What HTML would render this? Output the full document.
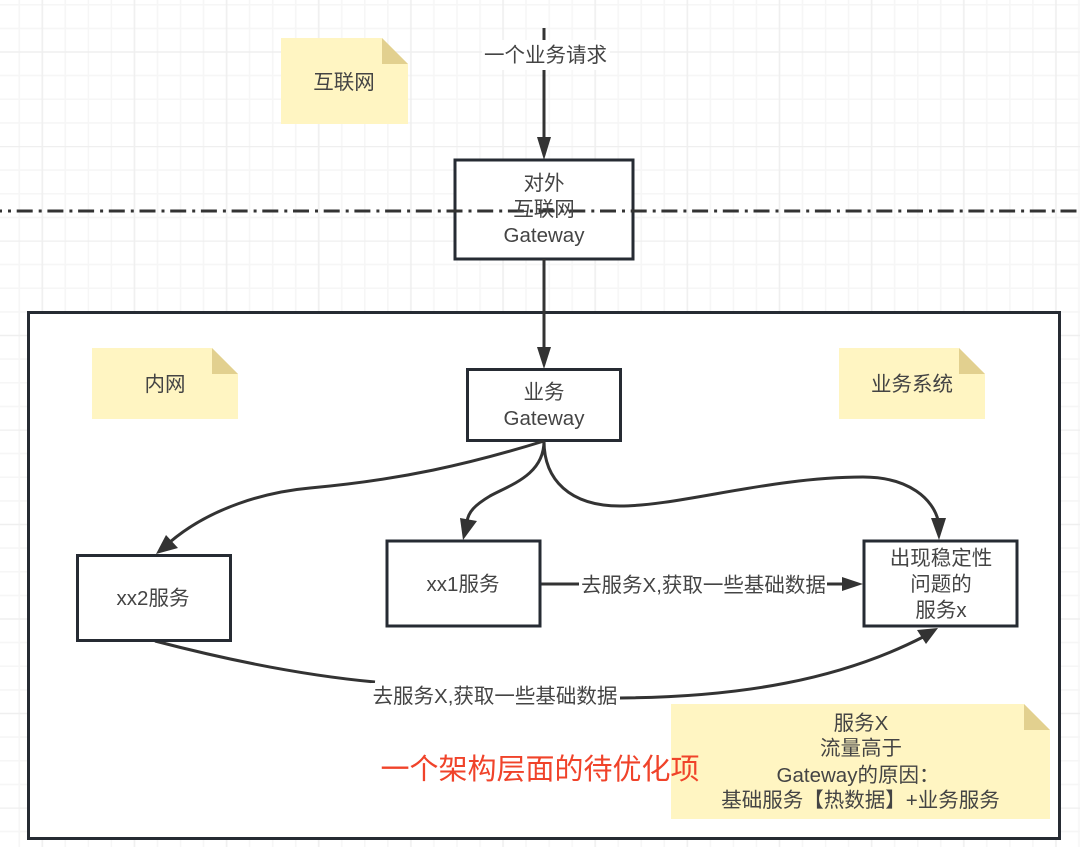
<!DOCTYPE html>
<html><head><meta charset="utf-8"><style>
html,body{margin:0;padding:0;background:#fff}
svg{display:block;filter:blur(.3px)}
text{font-family:"Liberation Sans","Noto Sans CJK SC",sans-serif;font-size:20.5px;fill:#444;text-anchor:middle}
</style></head><body>
<svg width="1080" height="847" viewBox="0 0 1080 847" xmlns="http://www.w3.org/2000/svg">
<defs>
<pattern id="g" width="92.15" height="94.5" patternUnits="userSpaceOnUse" x="41.3" y="51">
<path d="M24 0V94.5M47.1 0V94.5M70.1 0V94.5M0 24.6H92.15M0 48.25H92.15M0 71.9H92.15" stroke="#f6f6f6" stroke-width="1.6" fill="none"/>
<path d="M1 0V94.5M0 1H92.15" stroke="#efefef" stroke-width="1.6" fill="none"/>
</pattern>
</defs>
<rect width="1080" height="847" fill="#fff"/>
<rect width="1080" height="847" fill="url(#g)"/>

<!-- top arrow -->
<path d="M544 28V140" stroke="#333" stroke-width="3" fill="none"/>
<rect x="482" y="40" width="128" height="30" fill="#fff"/>
<text x="545.5" y="62">一个业务请求</text>
<polygon points="544,160 537,137 551,137" fill="#333"/>

<!-- note 互联网 -->
<polygon points="281,38 382,38 408,64 408,124 281,124" fill="#fff5c2"/>
<polygon points="382,38 408,64 382,64" fill="#e2d08f"/>
<text x="344" y="89">互联网</text>

<!-- main container -->
<rect x="28.5" y="312.5" width="1031" height="526" fill="#fff" stroke="#262b33" stroke-width="3"/>

<!-- gateway box -->
<rect x="455" y="160" width="178" height="99" fill="#fff" stroke="#262b33" stroke-width="3"/>
<path d="M0 211H1080" stroke="#333" stroke-width="3" fill="none" stroke-dasharray="16 6 3 5.7" stroke-dashoffset="14"/>
<text x="544" y="190">对外</text>
<text x="544" y="216">互联网</text>
<text x="544" y="242">Gateway</text>

<!-- gateway to business -->
<path d="M544 259V350" stroke="#333" stroke-width="3" fill="none"/>
<polygon points="544,369 537,347 551,347" fill="#333"/>

<!-- notes -->
<polygon points="92,348 212,348 238,374 238,419 92,419" fill="#fff5c2"/>
<polygon points="212,348 238,374 212,374" fill="#e2d08f"/>
<text x="165" y="391">内网</text>
<polygon points="839,348 959,348 985,374 985,419 839,419" fill="#fff5c2"/>
<polygon points="959,348 985,374 959,374" fill="#e2d08f"/>
<text x="912" y="391">业务系统</text>

<!-- business gateway -->
<rect x="467.5" y="369.5" width="153" height="71" fill="#fff" stroke="#262b33" stroke-width="3"/>
<text x="544" y="399">业务</text>
<text x="544" y="425">Gateway</text>

<!-- curves -->
<g stroke="#333" stroke-width="3" fill="none">
<path d="M544 441C470 464 400 480 310 488C265 492 210 508 170 542"/>
<path d="M544 441C544 475 510 485 490 496C475 505 468 512 467 522"/>
<path d="M544 441C544 480 570 506 620 506C680 506 770 477 863 477C910 477 933 500 938 520"/>
<path d="M540 584H850"/>
<path d="M155 641C220 658 300 675 375 682"/>
<path d="M620 698C740 697 840 680 925 636"/>
</g>
<polygon points="156,554 166,535 178,548" fill="#333"/>
<polygon points="463,540 460,518 477,521" fill="#333"/>
<polygon points="939,540 931,518 946,518" fill="#333"/>
<polygon points="863,584 842,577 842,591" fill="#333"/>
<polygon points="938,628 917,630 926,644" fill="#333"/>

<!-- service boxes -->
<rect x="77.5" y="555.5" width="153" height="85" fill="#fff" stroke="#262b33" stroke-width="3"/>
<text x="153" y="605">xx2服务</text>
<rect x="387" y="541" width="153" height="85" fill="#fff" stroke="#262b33" stroke-width="3"/>
<text x="463" y="591">xx1服务</text>
<rect x="864" y="541" width="153" height="85" fill="#fff" stroke="#262b33" stroke-width="3"/>
<text x="941" y="565">出现稳定性</text>
<text x="941" y="591">问题的</text>
<text x="941" y="617">服务x</text>

<!-- edge labels -->
<rect x="579" y="572" width="248" height="25" fill="#fff"/>
<text x="703.5" y="592">去服务X,获取一些基础数据</text>
<rect x="371" y="683" width="248" height="26" fill="#fff"/>
<text x="495" y="703">去服务X,获取一些基础数据</text>

<!-- bottom note -->
<polygon points="671,704 1024,704 1050,730 1050,819 671,819" fill="#fff5c2"/>
<polygon points="1024,704 1050,730 1024,730" fill="#e2d08f"/>
<text x="861" y="730">服务X</text>
<text x="861" y="755">流量高于</text>
<text x="858" y="782">Gateway的原因：</text>
<text x="860.5" y="807">基础服务【热数据】+业务服务</text>

<!-- red -->
<text x="540" y="779" style="font-size:29px;fill:#f0432a">一个架构层面的待优化项</text>
</svg>
</body></html>
